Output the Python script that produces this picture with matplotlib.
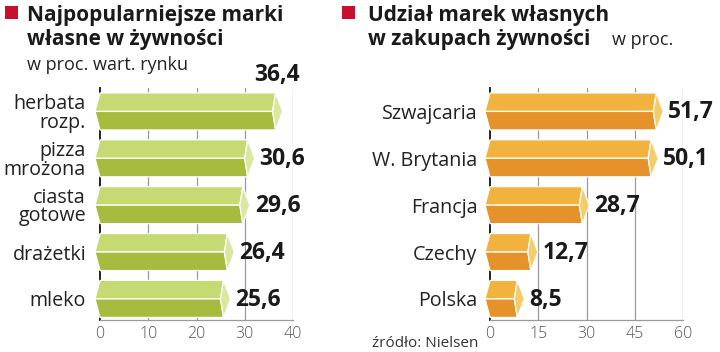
import matplotlib
matplotlib.use("Agg")
import matplotlib.pyplot as plt
from matplotlib.patches import Polygon, Rectangle

plt.rcParams['font.family'] = ['Open Sans', 'DejaVu Sans']

# ---- data ----
left_categories = ['herbata\nrozp.', 'pizza\nmrożona', 'ciasta\ngotowe', 'drażetki', 'mleko']
left_values = [36.4, 30.6, 29.6, 26.4, 25.6]
left_labels = ['36,4', '30,6', '29,6', '26,4', '25,6']
left_ticks = [0, 10, 20, 30, 40]

right_categories = ['Szwajcaria', 'W. Brytania', 'Francja', 'Czechy', 'Polska']
right_values = [51.7, 50.1, 28.7, 12.7, 8.5]
right_labels = ['51,7', '50,1', '28,7', '12,7', '8,5']
right_ticks = [0, 15, 30, 45, 60]

W, H = 720, 352
fig = plt.figure(figsize=(W / 100, H / 100), dpi=100)

def fx(px):
    return px / W

def fy(py):
    return 1 - py / H

ax_top, ax_bot = 88, 320
axL = fig.add_axes([fx(100), fy(ax_bot), fx(193), (ax_bot - ax_top) / H])
axR = fig.add_axes([fx(490), fy(ax_bot), fx(193), (ax_bot - ax_top) / H])

green = dict(top='#c6da74', bot='#a7bc3e', cap='#d9e8a0')
orange = dict(top='#f2b23e', bot='#e5922a', cap='#f6cc6a')


def draw_panel(ax, cats, vals, labels, ticks, col, pad):
    xmax = ticks[-1]
    ax.set_xlim(0, xmax)
    ax.set_ylim(4.45, -0.5)
    ppu = 193.0 / xmax  # pixels per unit
    dt, dc, dl = 7 / ppu, 3 / ppu, 5 / ppu
    h = 0.395
    for i, v in enumerate(vals):
        y = i
        top = [(0, y - h), (v, y - h), (v - dc, y), (-dl, y)]
        bot = [(-dl, y), (v - dc, y), (v, y + h), (0, y + h)]
        cap = [(v, y - h), (v + dt, y), (v, y + h), (v - dc, y)]
        for pts, c in ((top, col['top']), (bot, col['bot']), (cap, col['cap'])):
            ax.add_patch(Polygon(pts, closed=True, facecolor=c, edgecolor='white',
                                 linewidth=0.9, zorder=3, clip_on=False))
    for t in ticks[1:]:
        ax.axvline(t, color='#9a9a9a', linewidth=0.9, zorder=1)
    for s in ['top', 'right']:
        ax.spines[s].set_visible(False)
    ax.spines['left'].set_color('#222222')
    ax.spines['left'].set_linewidth(1.4)
    ax.spines['left'].set_zorder(2)
    ax.spines['bottom'].set_color('#9a9a9a')
    ax.spines['bottom'].set_linewidth(0.9)
    ax.set_xticks(ticks)
    ax.set_xticklabels([str(t) for t in ticks], fontsize=11.5, color='#555555',
                       fontweight='light')
    ax.set_yticks(range(len(cats)))
    ax.set_yticklabels(cats, fontsize=14.2, color='#222222', linespacing=0.92)
    ax.tick_params(axis='both', length=0)
    ax.tick_params(axis='x', pad=4)
    ax.tick_params(axis='y', pad=pad)
    ax.patch.set_alpha(0)


draw_panel(axL, left_categories, left_values, left_labels, left_ticks, green, 10)
draw_panel(axR, right_categories, right_values, right_labels, right_ticks, orange, 9)

vfs = 16.5
for i, (v, lab) in enumerate(zip(left_values, left_labels)):
    if i == 0:
        axL.annotate(lab, (v, i), xytext=(-21, 36), textcoords='offset pixels',
                     ha='left', va='center', fontsize=vfs, fontweight='bold',
                     color='#1a1a1a', annotation_clip=False,
                     bbox=dict(facecolor='white', edgecolor='none', pad=1), zorder=5)
    else:
        axL.annotate(lab, (v, i), xytext=(12, -1), textcoords='offset pixels',
                     ha='left', va='center', fontsize=vfs, fontweight='bold',
                     color='#1a1a1a', annotation_clip=False, zorder=5)
for i, (v, lab) in enumerate(zip(right_values, right_labels)):
    axR.annotate(lab, (v, i), xytext=(12, -1), textcoords='offset pixels',
                 ha='left', va='center', fontsize=vfs, fontweight='bold',
                 color='#1a1a1a', annotation_clip=False, zorder=5)

red = '#c8102e'
fig.patches.append(Rectangle((fx(5), fy(19)), fx(13), 13 / H, transform=fig.transFigure,
                             facecolor=red, edgecolor='none'))
fig.patches.append(Rectangle((fx(342), fy(19)), fx(13), 13 / H, transform=fig.transFigure,
                             facecolor=red, edgecolor='none'))

tfs = 15
fig.text(fx(27), fy(21), 'Najpopularniejsze marki', fontsize=tfs, fontweight='bold',
         color='#1a1a1a', ha='left', va='baseline')
fig.text(fx(27), fy(45), 'własne w żywności', fontsize=tfs, fontweight='bold',
         color='#1a1a1a', ha='left', va='baseline')
fig.text(fx(27), fy(70), 'w proc. wart. rynku', fontsize=13,
         color='#222222', ha='left', va='baseline')

fig.text(fx(368), fy(21), 'Udział marek własnych', fontsize=tfs, fontweight='bold',
         color='#1a1a1a', ha='left', va='baseline')
fig.text(fx(368), fy(45), 'w zakupach żywności', fontsize=tfs, fontweight='bold',
         color='#1a1a1a', ha='left', va='baseline')
fig.text(fx(612), fy(45), 'w proc.', fontsize=13,
         color='#222222', ha='left', va='baseline')

fig.text(fx(372), fy(347), 'źródło: Nielsen', fontsize=11, color='#333333',
         ha='left', va='baseline')

fig.savefig('out.png', dpi=100)
